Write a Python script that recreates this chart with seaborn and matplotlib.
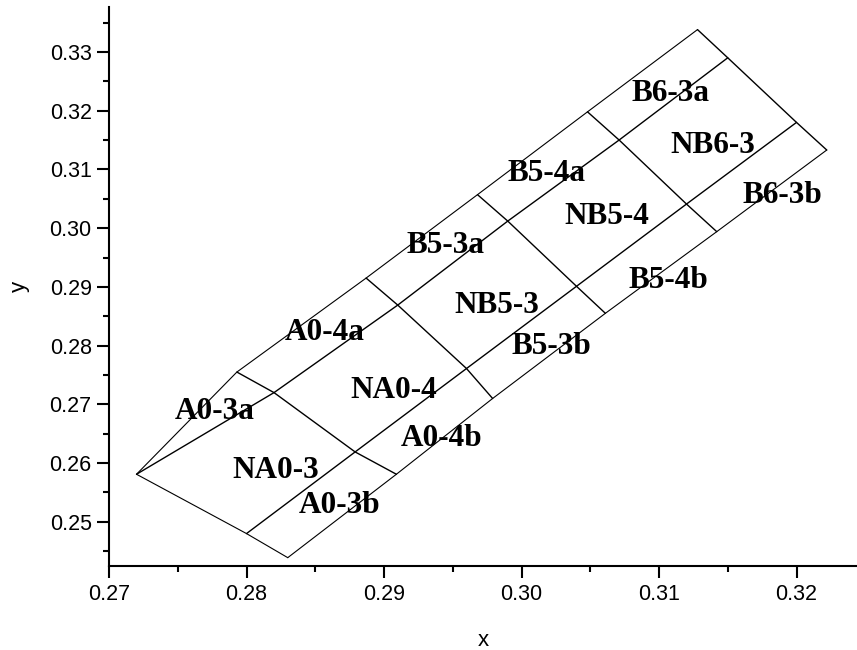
import seaborn as sns
import matplotlib.pyplot as plt
import matplotlib.ticker as mticker
import pandas as pd

# bin corner points, one list per boundary line (top to bottom)
row_a_x = [0.2720, 0.2793, 0.2887, 0.2968, 0.3048, 0.3128]
row_a_y = [0.2581, 0.2755, 0.2915, 0.3057, 0.3198, 0.3338]
row_n_top_x = [0.2720, 0.2820, 0.2910, 0.2990, 0.3071, 0.3150]
row_n_top_y = [0.2581, 0.2720, 0.2869, 0.3012, 0.3150, 0.3290]
row_n_bot_x = [0.2800, 0.2879, 0.2960, 0.3040, 0.3120, 0.3200]
row_n_bot_y = [0.2480, 0.2619, 0.2761, 0.2901, 0.3041, 0.3180]
row_b_x = [0.2830, 0.2909, 0.2979, 0.3061, 0.3142, 0.3222]
row_b_y = [0.2439, 0.2581, 0.2710, 0.2855, 0.2994, 0.3133]

bin_names = ["A0-3a", "NA0-3", "A0-3b", "A0-4a", "NA0-4", "A0-4b",
             "B5-3a", "NB5-3", "B5-3b", "B5-4a", "NB5-4", "B5-4b",
             "B6-3a", "NB6-3", "B6-3b"]
name_x = [0.2777, 0.2821, 0.2868, 0.2857, 0.2907, 0.2942,
          0.2945, 0.2982, 0.3022, 0.3018, 0.3062, 0.3107,
          0.3108, 0.3139, 0.3190]
name_y = [0.2687, 0.2587, 0.2528, 0.2823, 0.2724, 0.2642,
          0.2971, 0.2869, 0.2798, 0.3093, 0.3019, 0.2911,
          0.3229, 0.3141, 0.3056]

rows_x = [row_a_x, row_n_top_x, row_n_bot_x, row_b_x]
rows_y = [row_a_y, row_n_top_y, row_n_bot_y, row_b_y]

# long lines and cross lines as one long-format frame
recs = []
for i in range(4):
    for k in range(6):
        recs.append({"seg": f"row{i}", "order": k, "x": rows_x[i][k], "y": rows_y[i][k], "inner": i in (1, 2)})
for k in range(6):
    for i in range(4):
        recs.append({"seg": f"col{k}", "order": i, "x": rows_x[i][k], "y": rows_y[i][k], "inner": k > 0})
lines = pd.DataFrame(recs)

sns.set_style("ticks", {"axes.edgecolor": "black", "text.color": "black",
                        "axes.labelcolor": "black", "xtick.color": "black",
                        "ytick.color": "black"})
plt.rcParams["font.family"] = ["Liberation Sans", "DejaVu Sans"]

fig = plt.figure(figsize=(8.57, 6.5), dpi=100)
ax = fig.add_axes([0.1272, 0.1285, 0.8728, 0.8612])

sns.lineplot(data=lines[lines.inner], x="x", y="y", units="seg", estimator=None,
             sort=False, color="black", linewidth=1.0, ax=ax)
sns.lineplot(data=lines[~lines.inner], x="x", y="y", units="seg", estimator=None,
             sort=False, color="black", linewidth=0.8, ax=ax)

for nm, tx, ty in zip(bin_names, name_x, name_y):
    ax.text(tx, ty, nm, ha="center", va="center", fontsize=22.5, fontweight="bold",
            color="black", family=["Liberation Serif", "DejaVu Serif"])

ax.set_xlim(0.27, 0.3244)
ax.set_ylim(0.2424, 0.3377)
ax.xaxis.set_major_locator(mticker.MultipleLocator(0.01))
ax.xaxis.set_minor_locator(mticker.MultipleLocator(0.005))
ax.yaxis.set_major_locator(mticker.MultipleLocator(0.01))
ax.yaxis.set_minor_locator(mticker.MultipleLocator(0.005))
ax.xaxis.set_major_formatter(mticker.FormatStrFormatter("%.2f"))
ax.yaxis.set_major_formatter(mticker.FormatStrFormatter("%.2f"))

sns.despine(ax=ax)
for sp in ["left", "bottom"]:
    ax.spines[sp].set_linewidth(1.5)
    ax.spines[sp].set_color("black")
ax.tick_params(which="major", direction="out", length=8.5, width=1.5, labelsize=15.5,
               pad=4, colors="black")
ax.tick_params(which="minor", direction="out", length=4.5, width=1.5, colors="black")

ax.set_xlabel("x", fontsize=16, labelpad=18, color="black")
ax.set_ylabel("y", fontsize=16, labelpad=14, color="black")

fig.savefig("out.png", dpi=100)
